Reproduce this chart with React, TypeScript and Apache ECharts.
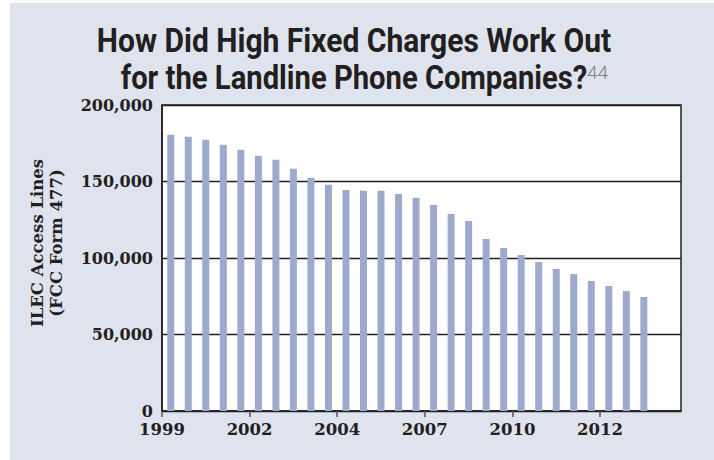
import React, { useEffect, useRef } from "react";
import * as echarts from "echarts";

// Semi-annual reporting periods (FCC Form 477)
const periods = [
  "Dec 1999", "Jun 2000", "Dec 2000", "Jun 2001", "Dec 2001", "Jun 2002", "Dec 2002",
  "Jun 2003", "Dec 2003", "Jun 2004", "Dec 2004", "Jun 2005", "Dec 2005", "Jun 2006",
  "Dec 2006", "Jun 2007", "Dec 2007", "Jun 2008", "Dec 2008", "Jun 2009", "Dec 2009",
  "Jun 2010", "Dec 2010", "Jun 2011", "Dec 2011", "Jun 2012", "Dec 2012", "Jun 2013",
];
const accessLines = [
  180500, 179300, 177300, 174000, 170700, 166800, 164200, 158300, 152400, 147800,
  144500, 143900, 143900, 141900, 139300, 134700, 128800, 124200, 112400, 106500,
  102000, 97400, 92800, 89500, 84900, 81700, 78400, 74500,
];
const xTickPositions = [0, 5, 10, 15, 20, 25];
const xTickLabels = ["1999", "2002", "2004", "2007", "2010", "2012"];
const yTicks = [0, 50000, 100000, 150000, 200000];

const titleLine1 = "How Did High Fixed Charges Work Out";
const titleLine2 = "for the Landline Phone Companies?";
const titleNote = "44";
const yAxisTitle = "ILEC Access Lines\n(FCC Form 477)";

export default function App() {
  const ref = useRef<HTMLDivElement>(null);
  useEffect(() => {
    if (!ref.current) return;
    const chart = echarts.init(ref.current, null, { renderer: "svg" });
    const serif = "DejaVu Serif";
    const ink = "#231f20";
    chart.setOption({
      animation: false,
      backgroundColor: "transparent",
      grid: {
        left: 162,
        right: 33,
        top: 105,
        bottom: 49,
        show: true,
        backgroundColor: "#ffffff",
        borderColor: ink,
        borderWidth: 1.5,
      },
      xAxis: {
        type: "value",
        min: 0,
        max: periods.length + 1.62,
        axisLine: { show: true, onZero: false, lineStyle: { color: ink, width: 1.5 } },
        axisTick: {
          show: true,
          customValues: xTickPositions,
          length: 6,
          lineStyle: { color: "#555555", width: 1.5 },
        },
        axisLabel: {
          customValues: xTickPositions,
          formatter: (v: number) => {
            const i = xTickPositions.indexOf(Math.round(v));
            return i >= 0 ? xTickLabels[i] : "";
          },
          margin: 10,
          fontFamily: serif,
          fontWeight: "bold",
          fontSize: 16.5,
          color: ink,
        },
        splitLine: { show: false },
      },
      yAxis: {
        type: "value",
        min: yTicks[0],
        max: yTicks[yTicks.length - 1],
        interval: yTicks[1] - yTicks[0],
        axisLine: { show: true, lineStyle: { color: ink, width: 1.5 } },
        axisTick: { show: false },
        axisLabel: {
          formatter: (v: number) => v.toLocaleString("en-US"),
          margin: 9,
          fontFamily: serif,
          fontWeight: "bold",
          fontSize: 16,
          color: ink,
        },
        splitLine: { show: true, lineStyle: { color: ink, width: 1.3 } },
      },
      series: [
        {
          type: "bar",
          name: "ILEC access lines",
          data: accessLines.map((v, i) => [i + 0.5, v]),
          barWidth: 7,
          itemStyle: { color: "#9caacb" },
        },
      ],
      graphic: [
        {
          type: "text",
          x: 354,
          y: 41,
          scaleX: 0.91,
          style: {
            text: titleLine1,
            fontFamily: "Roboto",
            fontWeight: "bold",
            fontSize: 33,
            fill: ink,
            textAlign: "center",
            textVerticalAlign: "middle",
          },
        },
        {
          type: "text",
          x: 354,
          y: 78,
          scaleX: 0.885,
          style: {
            text: titleLine2,
            fontFamily: "Roboto",
            fontWeight: "bold",
            fontSize: 33,
            fill: ink,
            textAlign: "center",
            textVerticalAlign: "middle",
          },
        },
        {
          type: "text",
          x: 587,
          y: 72,
          style: {
            text: titleNote,
            fontFamily: "Roboto",
            fontWeight: 300,
            fontSize: 19,
            fill: "#808080",
            textAlign: "left",
            textVerticalAlign: "middle",
          },
        },
        {
          type: "text",
          x: 47,
          y: 243,
          rotation: Math.PI / 2,
          style: {
            text: yAxisTitle,
            fontFamily: serif,
            fontWeight: "bold",
            fontSize: 16.5,
            lineHeight: 19,
            fill: ink,
            textAlign: "center",
            textVerticalAlign: "middle",
          },
        },
      ],
    });
    return () => chart.dispose();
  }, []);
  return (
    <div style={{ position: "fixed", left: 0, top: 0, width: 714, height: 460, background: "#ffffff" }}>
      <div style={{ position: "absolute", left: 10, top: 3, width: 704, height: 457, background: "#dfe3ee" }} />
      <div ref={ref} style={{ position: "absolute", left: 0, top: 0, width: 714, height: 460 }} />
    </div>
  );
}
